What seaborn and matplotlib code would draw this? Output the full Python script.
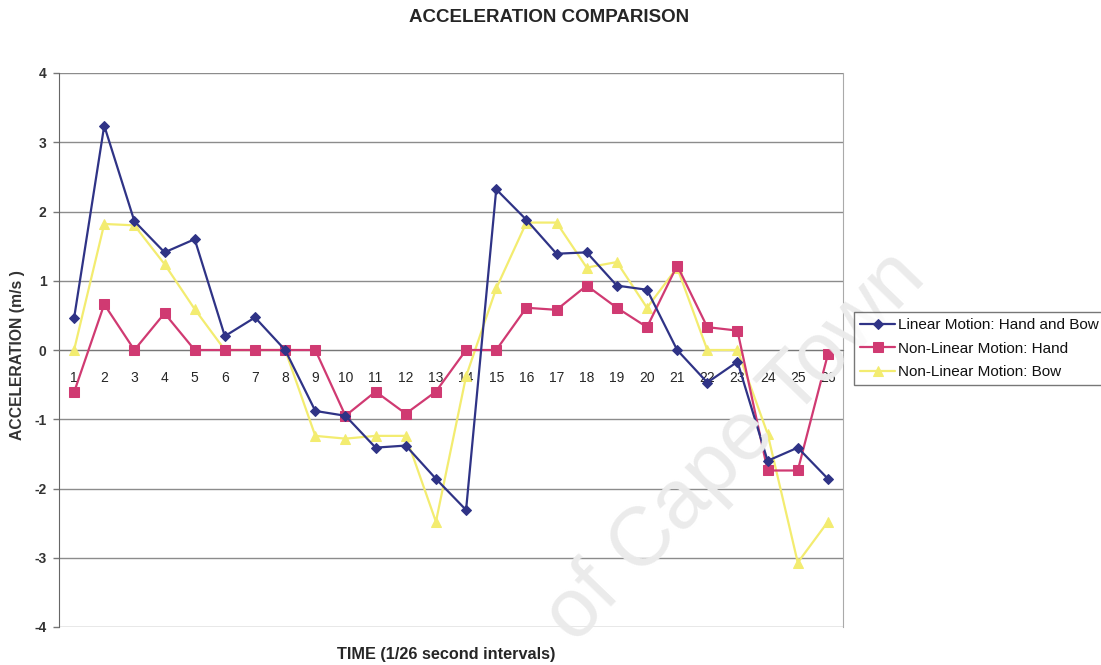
import matplotlib
matplotlib.use("Agg")
import matplotlib.pyplot as plt
import numpy as np
import pandas as pd
import seaborn as sns

# Interval index (1/26 s steps)
intervals = list(range(1, 27))

linear_hand_bow = [0.46, 3.24, 1.86, 1.41, 1.60, 0.20, 0.47, 0.00, -0.88, -0.95,
                   -1.41, -1.38, -1.86, -2.31, 2.32, 1.88, 1.39, 1.41, 0.93, 0.87,
                   0.00, -0.47, -0.17, -1.60, -1.41, -1.86]
nonlinear_hand = [-0.61, 0.66, 0.00, 0.53, 0.00, 0.00, 0.00, 0.00, 0.00, -0.95,
                  -0.60, -0.92, -0.60, 0.00, 0.00, 0.61, 0.58, 0.93, 0.61, 0.33,
                  1.22, 0.33, 0.28, -1.74, -1.74, -0.06]
nonlinear_bow = [0.00, 1.82, 1.80, 1.24, 0.59, 0.00, 0.00, 0.00, -1.24, -1.28,
                 -1.24, -1.24, -2.48, -0.38, 0.89, 1.84, 1.84, 1.19, 1.27, 0.61,
                 1.19, 0.00, 0.00, -1.21, -3.07, -2.48]

series_names = ["Linear Motion: Hand and Bow",
                "Non-Linear Motion: Hand",
                "Non-Linear Motion: Bow"]
y_ticks = [-4, -3, -2, -1, 0, 1, 2, 3, 4]

sns.set_style("white")
plt.rcParams["font.family"] = ["Liberation Sans", "DejaVu Sans"]

fig = plt.figure(figsize=(11.01, 6.65), dpi=100)
ax = fig.add_axes([59 / 1101, 1 - 627 / 665, 784 / 1101, 554 / 665])

# faint diagonal watermark behind the data
fig.text(575 / 1101, 1 - 645 / 665, "of Cape Town", fontsize=60, color="#ebebeb",
         rotation=46, rotation_mode="anchor", ha="left", va="baseline", zorder=0)
ax.set_facecolor("none")

df = pd.DataFrame({
    "t": intervals * 3,
    "acc": linear_hand_bow + nonlinear_hand + nonlinear_bow,
    "series": sum([[n] * len(intervals) for n in series_names], []),
})

styles = {
    series_names[0]: dict(color="#2f3386", marker="D", ms=5.5),
    series_names[1]: dict(color="#d03a72", marker="s", ms=7),
    series_names[2]: dict(color="#f3ec70", marker="^", ms=6.5),
}
for name in [series_names[2], series_names[1], series_names[0]]:
    st = styles[name]
    sns.lineplot(data=df[df["series"] == name], x="t", y="acc", ax=ax,
                 color=st["color"], marker=st["marker"], markersize=st["ms"],
                 markeredgecolor=st["color"], linewidth=1.6, label=name,
                 legend=False, zorder=3)

ax.set_xlim(0.5, 26.5)
ax.set_ylim(-4, 4)
ax.set_yticks(y_ticks)
ax.set_yticklabels([str(v) for v in y_ticks], fontweight="bold", fontsize=10,
                   color="#333333")
ax.yaxis.grid(True, color="#8c8c8c", linewidth=1.0)
ax.set_axisbelow(True)

ax.set_xticks(intervals)
ax.set_xticklabels([str(i) for i in intervals], fontweight="bold", fontsize=10.5,
                   color="#1a1a1a")
ax.set_xticks(np.arange(0.5, 27, 1.0), minor=True)
ax.tick_params(axis="x", which="major", length=0, pad=15)
ax.tick_params(axis="x", which="minor", length=4, direction="out",
               color="#777777", width=1)
ax.tick_params(axis="y", length=4, direction="out", color="#777777", width=1,
               pad=5, left=True)

ax.spines["bottom"].set_position(("data", 0))
ax.spines["bottom"].set_color("#777777")
ax.spines["left"].set_color("#666666")
ax.spines["right"].set_color("#aaaaaa")
ax.spines["top"].set_visible(False)
ax.set_xlabel("")
ax.set_ylabel("")

fig.text(549 / 1101, 1 - 18 / 665, "ACCELERATION COMPARISON", fontsize=13.5,
         fontweight="bold", ha="center", va="center")
fig.text(446 / 1101, 1 - 655 / 665, "TIME (1/26 second intervals)", fontsize=11.7,
         fontweight="bold", ha="center", va="center")
fig.text(18 / 1101, 1 - 355 / 665, "ACCELERATION (m/s )", fontsize=11.3,
         fontweight="bold", ha="center", va="center", rotation=90,
         color="#333333")

handles, labels = ax.get_legend_handles_labels()
order = [labels.index(n) for n in series_names]
leg = fig.legend([handles[i] for i in order], [labels[i] for i in order],
                 loc="upper left", bbox_to_anchor=(854 / 1101, 1 - 312 / 665),
                 fontsize=11, frameon=True, fancybox=False, edgecolor="#555555",
                 handlelength=2.3, handletextpad=0.15, borderpad=0.4,
                 labelspacing=0.62, borderaxespad=0, labelcolor="#111111")
leg.get_frame().set_linewidth(1.0)

fig.savefig("out.png", dpi=100)
